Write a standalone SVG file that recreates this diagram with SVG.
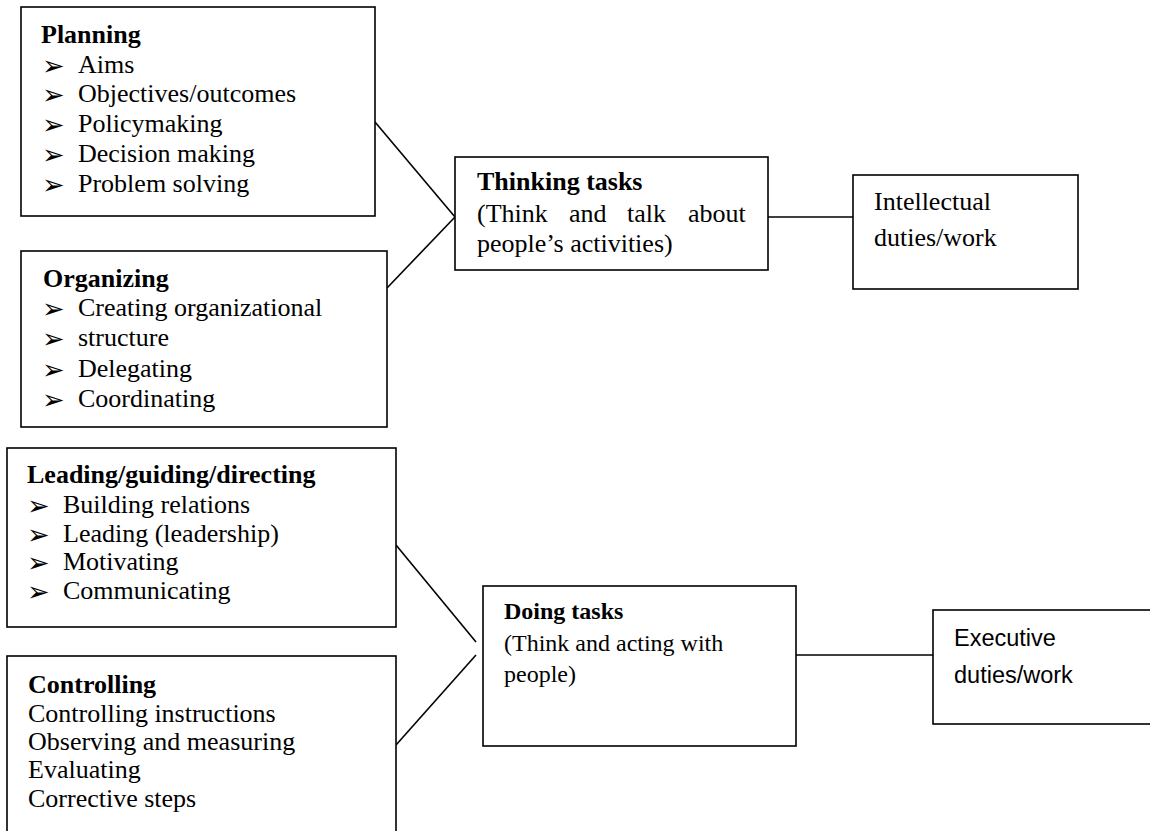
<svg xmlns="http://www.w3.org/2000/svg" width="1150" height="831" viewBox="0 0 1150 831">
<style>
.box{fill:#fff;stroke:#000;stroke-width:1.6}
.t{font-family:"Liberation Serif","Times New Roman",serif;font-size:26px;fill:#000}
.b{font-weight:bold}
.s{font-size:24px}
.blt{font-family:"DejaVu Sans",sans-serif;font-size:27px;fill:#000}
.sans{font-family:"Liberation Sans",Arial,sans-serif;font-size:23.5px;fill:#000}
.c{stroke:#000;stroke-width:1.6;fill:none}
</style>
<rect width="1150" height="831" fill="#fff"/>
<g id="connectors">
<line class="c" x1="375" y1="122" x2="455" y2="217"/>
<line class="c" x1="387" y1="288" x2="455" y2="217"/>
<line class="c" x1="768" y1="217" x2="853" y2="217"/>
<line class="c" x1="396" y1="545" x2="476" y2="642"/>
<line class="c" x1="396" y1="745" x2="476" y2="655"/>
<line class="c" x1="796" y1="655" x2="933" y2="655"/>
</g>
<g id="planning">
<rect class="box" x="21" y="7" width="354" height="209"/>
<text class="t b" x="41" y="43">Planning</text>
<text class="blt" x="42" y="75">➢</text><text class="t" x="78" y="73">Aims</text>
<text class="blt" x="42" y="104">➢</text><text class="t" x="78" y="102">Objectives/outcomes</text>
<text class="blt" x="42" y="134">➢</text><text class="t" x="78" y="132">Policymaking</text>
<text class="blt" x="42" y="164">➢</text><text class="t" x="78" y="162">Decision making</text>
<text class="blt" x="42" y="194">➢</text><text class="t" x="78" y="192">Problem solving</text>
</g>
<g id="organizing">
<rect class="box" x="21" y="251" width="366" height="176"/>
<text class="t b" x="43" y="287">Organizing</text>
<text class="blt" x="42" y="318">➢</text><text class="t" x="78" y="316">Creating organizational</text>
<text class="blt" x="42" y="348">➢</text><text class="t" x="78" y="346">structure</text>
<text class="blt" x="42" y="379">➢</text><text class="t" x="78" y="377">Delegating</text>
<text class="blt" x="42" y="409">➢</text><text class="t" x="78" y="407">Coordinating</text>
</g>
<g id="thinking">
<rect class="box" x="455" y="157" width="313" height="113"/>
<text class="t b" x="477" y="190">Thinking tasks</text>
<text class="t" y="222"><tspan x="477">(Think</tspan><tspan x="569">and</tspan><tspan x="627">talk</tspan><tspan x="688">about</tspan></text>
<text class="t" x="477" y="252">people’s activities)</text>
</g>
<g id="intellectual">
<rect class="box" x="853" y="175" width="225" height="114"/>
<text class="t" x="874" y="210">Intellectual</text>
<text class="t" x="874" y="246">duties/work</text>
</g>
<g id="leading">
<rect class="box" x="7" y="448" width="389" height="179"/>
<text class="t b" x="27" y="483">Leading/guiding/directing</text>
<text class="blt" x="27" y="515">➢</text><text class="t" x="63" y="513">Building relations</text>
<text class="blt" x="27" y="544">➢</text><text class="t" x="63" y="542">Leading (leadership)</text>
<text class="blt" x="27" y="572">➢</text><text class="t" x="63" y="570">Motivating</text>
<text class="blt" x="27" y="601">➢</text><text class="t" x="63" y="599">Communicating</text>
</g>
<g id="controlling">
<rect class="box" x="7" y="656" width="389" height="190"/>
<text class="t b" x="28" y="693">Controlling</text>
<text class="t" x="28" y="722">Controlling instructions</text>
<text class="t" x="28" y="750">Observing and measuring</text>
<text class="t" x="28" y="778">Evaluating</text>
<text class="t" x="28" y="807">Corrective steps</text>
</g>
<g id="doing">
<rect class="box" x="483" y="586" width="313" height="160"/>
<text class="t s b" x="504" y="619">Doing tasks</text>
<text class="t s" x="504" y="651">(Think and acting with</text>
<text class="t s" x="504" y="682">people)</text>
</g>
<g id="executive">
<rect class="box" x="933" y="610" width="240" height="114"/>
<text class="sans" x="954" y="646">Executive</text>
<text class="sans" x="954" y="683">duties/work</text>
</g>
</svg>
